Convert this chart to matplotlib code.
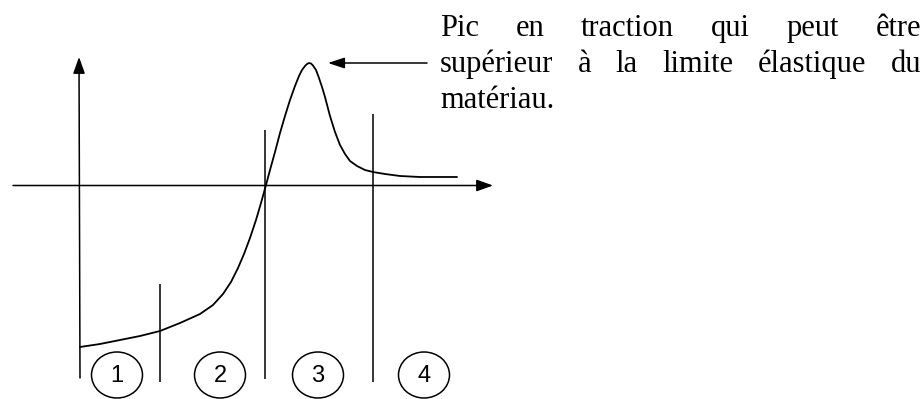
import matplotlib
matplotlib.use("Agg")
import matplotlib.pyplot as plt
from matplotlib.patches import Ellipse, FancyArrowPatch

# ---- data (pixel-space schematic coordinates) ----
curve_x = [80, 100, 120, 140, 160, 180, 200, 213, 223, 231, 238, 244, 250, 256, 261, 266,
           270, 275, 280, 285, 290, 295, 299, 302, 305, 307, 309, 311, 313, 316, 319, 322,
           325, 330, 335, 340, 345, 350, 357, 365, 373, 385, 400, 420, 457]
curve_y = [347, 344, 340, 336, 331, 323, 314, 305, 294, 282, 268, 254, 238, 220, 203, 185,
           170, 152, 133, 116, 100, 86, 76, 70, 66, 64, 63, 63.5, 65.5, 70, 78, 87,
           97, 116, 132, 145, 154, 161, 166, 170, 172, 174, 176, 177, 177]

sep_x = [160, 265, 373]
sep_top = [284, 130, 114]
sep_bottom = [382, 379, 382]

zone_labels = ["1", "2", "3", "4"]
zone_x = [117, 220, 318, 424]
zone_y = 375

text_lines = ["Pic en traction qui peut être",
              "supérieur à la limite élastique du",
              "matériau."]

W, H = 924, 399
fig = plt.figure(figsize=(W / 100, H / 100), dpi=100)
ax = fig.add_axes([0, 0, 1, 1])
ax.set_xlim(0, W)
ax.set_ylim(H, 0)
ax.axis("off")

lw = 1.1
k = "black"

# axes with arrows
ax.add_patch(FancyArrowPatch((80, 378), (79, 57), arrowstyle="-|>,head_length=10,head_width=3.6",
                             mutation_scale=1, lw=lw, color=k, shrinkA=0, shrinkB=0))
ax.add_patch(FancyArrowPatch((13, 185.5), (493, 185.5), arrowstyle="-|>,head_length=10,head_width=3.6",
                             mutation_scale=1, lw=lw, color=k, shrinkA=0, shrinkB=0))
# annotation arrow
ax.add_patch(FancyArrowPatch((427, 63), (328, 63), arrowstyle="-|>,head_length=10,head_width=3.3",
                             mutation_scale=1, lw=lw, color=k, shrinkA=0, shrinkB=0))

# separators
ax.vlines(sep_x, sep_top, sep_bottom, colors=k, lw=lw)

# curve
ax.plot(curve_x, curve_y, color=k, lw=1.3, solid_capstyle="round", solid_joinstyle="round")

# zone circles
for lab, cx in zip(zone_labels, zone_x):
    ax.add_patch(Ellipse((cx, zone_y), 51, 46, fill=False, ec=k, lw=lw))
    ax.text(cx, zone_y + 1, lab, ha="center", va="center", fontsize=17,
            family="Liberation Sans", color=k)

# justified text block
x_left, x_right = 440, 921
baselines = [36, 72, 108]
fs = 22
fig.canvas.draw()
renderer = fig.canvas.get_renderer()
for i, (line, yb) in enumerate(zip(text_lines, baselines)):
    words = line.split(" ")
    if i == len(text_lines) - 1:
        ax.text(x_left, yb, line, ha="left", va="baseline", fontsize=fs,
                family="Liberation Serif", color=k)
        continue
    arts = []
    widths = []
    for w in words:
        t = ax.text(0, yb, w, ha="left", va="baseline", fontsize=fs,
                    family="Liberation Serif", color=k)
        bb = t.get_window_extent(renderer)
        widths.append(bb.width)  # pixels == data units here
        arts.append(t)
    gap = (x_right - x_left - sum(widths)) / (len(words) - 1)
    x = x_left
    for t, wd in zip(arts, widths):
        t.set_x(x)
        x += wd + gap

fig.savefig("out.png", dpi=100)
